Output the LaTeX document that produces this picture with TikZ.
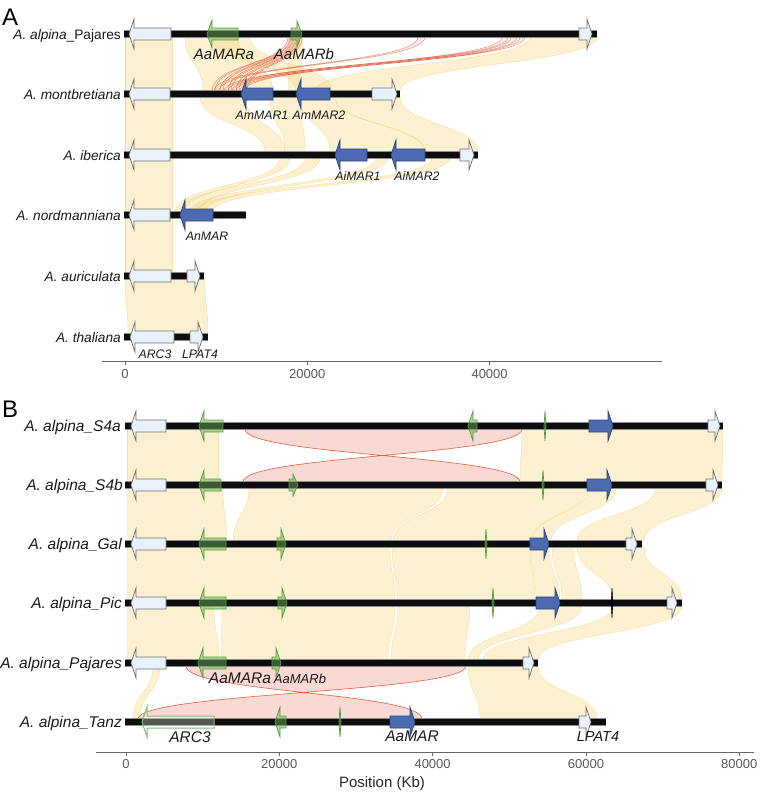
\documentclass[tikz,border=0pt]{standalone}
\usepackage{fontspec}
\setmainfont{Liberation Sans}
\definecolor{geneW}{HTML}{E9F2FB}
\definecolor{geneWd}{HTML}{707070}
\definecolor{geneB}{HTML}{4B6AB2}
\definecolor{geneBd}{HTML}{2E4478}
\definecolor{geneG}{HTML}{6BAA55}
\definecolor{geneGd}{HTML}{4FA03A}
\definecolor{ribY}{HTML}{F6DC8C}
\definecolor{ribYd}{HTML}{F0D078}
\definecolor{ribR}{HTML}{EFA090}
\definecolor{ribRd}{HTML}{E2603F}
\newcommand{\myfs}[1]{\fontsize{#1}{#1}\selectfont}
% ribbon: style, y1, x1a, x1b, y2, x2a, x2b
\newcommand{\myrib}[7]{\path[#1] (#3,{#2+3}) .. controls (#3,{(#2+#5)/2}) and (#6,{(#2+#5)/2}) .. (#6,{#5-3}) -- (#7,{#5-3}) .. controls (#7,{(#2+#5)/2}) and (#4,{(#2+#5)/2}) .. (#4,{#2+3}) -- cycle;}
\newcommand{\myinv}[7]{\path[#1] (#3,{#2+3}) .. controls (#3,{(#2+#5)/2}) and (#7,{(#2+#5)/2}) .. (#7,{#5-3}) -- (#6,{#5-3}) .. controls (#6,{(#2+#5)/2}) and (#4,{(#2+#5)/2}) .. (#4,{#2+3}) -- cycle;}
% genes: style, y, x1, x2, head half height
\newcommand{\gR}[5]{\path[#1] (#3,{#2-6}) -- ({#4-5},{#2-6}) -- ({#4-5},{#2-#5}) -- (#4,#2) -- ({#4-5},{#2+#5}) -- ({#4-5},{#2+6}) -- (#3,{#2+6}) -- cycle;}
\newcommand{\gL}[5]{\path[#1] (#4,{#2-6}) -- ({#3+5},{#2-6}) -- ({#3+5},{#2-#5}) -- (#3,#2) -- ({#3+5},{#2+#5}) -- ({#3+5},{#2+6}) -- (#4,{#2+6}) -- cycle;}
\newcommand{\gT}[3]{\path[#1] (#3,{#2-15}) -- ({#3+1},#2) -- (#3,{#2+15}) -- ({#3-1},#2) -- cycle;}
\newcommand{\chromo}[3]{\draw[chromout] (#2,#1) -- (#3,#1); \draw[chromin] (#2,#1) -- (#3,#1);}
\begin{document}
\begin{tikzpicture}[x=1pt,y=-1pt,
  yrib/.style={fill=ribY, fill opacity=0.42, draw=ribYd, draw opacity=0.6, line width=0.4pt},
  rrib/.style={fill=ribR, fill opacity=0.4, draw=ribRd, line width=0.6pt},
  rribA/.style={fill=ribR, fill opacity=0.2, draw=ribRd, draw opacity=0.85, line width=0.35pt},
  chromout/.style={line width=7.5pt, draw=black!45},
  chromin/.style={line width=5.5pt, draw=black!95},
  gw/.style={fill=geneW, draw=geneWd, line width=0.7pt},
  gb/.style={fill=geneB, draw=geneBd, line width=0.7pt},
  gg/.style={fill=geneG, fill opacity=0.5, draw=geneGd, line width=0.7pt},
  gtz/.style={fill=white, fill opacity=0.3, draw=geneGd!70, line width=1pt},
  gk/.style={fill=black, draw=black, line width=0.4pt},
  sp/.style={font=\myfs{13.7}\itshape, anchor=base east, inner sep=0pt, text=black!90},
  spb/.style={font=\myfs{15.5}\itshape, anchor=base east, inner sep=0pt, text=black!90},
  glA/.style={font=\myfs{12.3}\itshape, anchor=base, inner sep=0pt, text=black!90},
  glAL/.style={font=\myfs{15}\itshape, anchor=base, inner sep=0pt, text=black!90},
  glB/.style={font=\myfs{15.5}\itshape, anchor=base, inner sep=0pt, text=black!90},
  tickl/.style={font=\myfs{13}, anchor=base, inner sep=0pt, text=black!65},
  axisl/.style={draw=black!60, line width=0.8pt},
  panel/.style={font=\myfs{24}, anchor=base west, inner sep=0pt}
]
\useasboundingbox (0,0) rectangle (762,793);

%================ PANEL A ribbons =================
% Pajares -> montbretiana
\myrib{yrib}{34}{125}{172}{94}{125}{172}
\myrib{yrib}{34}{185}{238}{94}{203}{273}
\myrib{yrib}{34}{212}{250}{94}{296}{332}
\myrib{yrib}{34}{288}{303}{94}{288}{300}
\myrib{yrib}{34}{530}{597}{94}{315}{400}
% montbretiana -> iberica
\myrib{yrib}{94}{125}{172}{155}{125}{172}
\myrib{yrib}{94}{200}{245}{155}{265}{285}
\myrib{yrib}{94}{270}{300}{155}{285}{305}
\myrib{yrib}{94}{300}{335}{155}{330}{425}
\myrib{yrib}{94}{335}{400}{155}{425}{478}
% iberica -> nordmanniana
\myrib{yrib}{155}{125}{172}{215}{125}{172}
\myrib{yrib}{155}{280}{290}{215}{175}{185}
\myrib{yrib}{155}{305}{320}{215}{180}{200}
\myrib{yrib}{155}{376}{388}{215}{190}{205}
\myrib{yrib}{155}{432}{450}{215}{195}{213}
% nordmanniana -> auriculata -> thaliana
\myrib{yrib}{215}{125}{172}{276}{125}{172}
\myrib{yrib}{276}{125}{205}{337}{128}{208}
% red (AaMARb and distal copies)
\foreach \i in {0,...,4}{\myrib{rribA}{34}{288+3*\i}{290+3*\i}{94}{212+8*\i}{215+8*\i}}
\myrib{rribA}{34}{418}{425}{94}{214}{219}
\myrib{rribA}{34}{502}{508}{94}{224}{228}
\myrib{rribA}{34}{511}{517}{94}{232}{236}
\myrib{rribA}{34}{520}{525}{94}{240}{244}

%================ PANEL A chromosomes =================
\chromo{34}{124}{597}
\chromo{94}{124}{400}
\chromo{155}{124}{478}
\chromo{215}{124}{246}
\chromo{276}{124}{204}
\chromo{337}{124}{208}

%================ PANEL A genes =================
\gL{gw}{34}{129}{171}{15}
\gL{gg}{34}{207}{238}{14}
\gR{gg}{34}{291}{302}{13}
\gR{gw}{34}{579}{592}{15}
\gL{gw}{94}{129}{170}{15}
\gL{gb}{94}{241}{273}{15}
\gL{gb}{94}{296}{330}{15}
\gR{gw}{94}{372}{397}{15}
\gL{gw}{155}{129}{170}{15}
\gL{gb}{155}{335}{367}{15}
\gL{gb}{155}{391}{425}{15}
\gR{gw}{155}{460}{474}{15}
\gL{gw}{215}{129}{170}{15}
\gL{gb}{215}{180}{213}{15}
\gL{gw}{276}{129}{171}{15}
\gR{gw}{276}{187}{200}{15}
\gL{gw}{337}{130}{174}{15}
\gR{gw}{337}{190}{203}{15}

%================ PANEL A labels =================
\node[panel] (pA) at (2,25) {A};
\node[sp] (sA1) at (121,39) {A. alpina\upshape\_Pajares};
\node[sp] (sA2) at (121,99) {A. montbretiana};
\node[sp] (sA3) at (121,160) {A. iberica};
\node[sp] (sA4) at (121,220) {A. nordmanniana};
\node[sp] (sA5) at (121,281) {A. auriculata};
\node[sp] (sA6) at (121,342) {A. thaliana};
\node[glAL] (lAaMARa) at (224,59) {AaMARa};
\node[glAL] (lAaMARb) at (304,59) {AaMARb};
\node[glA] (lAm1) at (262,119.5) {AmMAR1};
\node[glA] (lAm2) at (319,119.5) {AmMAR2};
\node[glA] (lAi1) at (358,180) {AiMAR1};
\node[glA] (lAi2) at (417,180) {AiMAR2};
\node[glA] (lAn) at (207,240) {AnMAR};
\node[glA] (lArcA) at (155,358) {ARC3};
\node[glA] (lLpA) at (200,358) {LPAT4};
% axis A
\draw[axisl] (102,361) coordinate (axA0) -- (662,361) coordinate (axA1);
\foreach \xx/\lab/\nm in {125/0/t0, 307.3/20000/t1, 489.6/40000/t2}{
  \draw[axisl] (\xx,361) -- (\xx,365);
  \node[tickl] (tA\nm) at (\xx,378) {\lab};
}

%================ PANEL B ribbons =================
% S4a -> S4b
\myrib{yrib}{426}{127}{218}{485}{127}{218}
\myinv{rrib}{426}{245}{522}{485}{243}{520}
\myrib{yrib}{426}{522}{723}{485}{520}{722}
% S4b -> Gal
\myrib{yrib}{485}{127}{223}{544}{127}{227}
\myrib{yrib}{485}{249}{443}{544}{233}{391}
\myrib{yrib}{485}{448}{586}{544}{393}{531}
\myrib{yrib}{485}{588}{616}{544}{532}{551}
\myrib{yrib}{485}{656}{722}{544}{577}{644}
% Gal -> Pic
\myrib{yrib}{544}{127}{390}{603}{127}{395}
\myrib{yrib}{544}{392}{530}{603}{397}{535}
\myrib{yrib}{544}{531}{549}{603}{536}{560}
\myrib{yrib}{544}{552}{574}{603}{562}{582}
\myrib{yrib}{544}{577}{644}{603}{613}{682}
% Pic -> Pajares
\myrib{yrib}{603}{127}{214}{663}{127}{219}
\myrib{yrib}{603}{222}{395}{663}{221}{388}
\myrib{yrib}{603}{398}{470}{663}{391}{465}
\myrib{yrib}{603}{540}{582}{663}{468}{478}
\myrib{yrib}{603}{613}{682}{663}{483}{538}
% Pajares -> Tanz
\myrib{yrib}{663}{153}{160}{722}{133}{140}
\myinv{rrib}{663}{186}{466}{722}{138}{422}
\myrib{yrib}{663}{468}{538}{722}{480}{597}

%================ PANEL B chromosomes =================
\chromo{426}{125}{723}
\chromo{485}{125}{722}
\chromo{544}{125}{642}
\chromo{603}{125}{682}
\chromo{663}{125}{538}
\chromo{722}{125}{606}

%================ PANEL B genes =================
% S4a
\gL{gw}{426}{131}{166}{15}
\gL{gg}{426}{199}{223}{15}
\gL{gg}{426}{468}{477}{15}
\gT{gg}{426}{545}
\gR{gb}{426}{589}{613}{15}
\gR{gw}{426}{708}{720}{15}
% S4b
\gL{gw}{485}{131}{166}{15}
\gL{gg}{485}{199}{221}{15}
\gR{gg}{485}{289}{298}{11}
\gT{gg}{485}{543}
\gR{gb}{485}{587}{612}{15}
\gR{gw}{485}{706}{718}{15}
% Gal
\gL{gw}{544}{131}{166}{15}
\gL{gg}{544}{199}{226}{15}
\gR{gg}{544}{277}{286}{15}
\gT{gg}{544}{486}
\gR{gb}{544}{530}{549}{15}
\gR{gw}{544}{626}{637}{15}
% Pic
\gL{gw}{603}{131}{166}{15}
\gL{gg}{603}{199}{226}{15}
\gR{gg}{603}{278}{287}{15}
\gT{gg}{603}{493}
\gR{gb}{603}{536}{560}{15}
\gT{gk}{603}{612}
\gR{gw}{603}{667}{677}{15}
% Pajares
\gL{gw}{663}{131}{166}{15}
\gL{gg}{663}{198}{226}{15}
\gR{gg}{663}{272}{281}{15}
\gR{gw}{663}{523}{534}{15}
% Tanz
\gL{gtz}{722}{142}{214}{15}
\gL{gg}{722}{275}{286}{15}
\gT{gg}{722}{340}
\gR{gb}{722}{390}{415}{15}
\gR{gw}{722}{579}{591}{15}

%================ PANEL B labels =================
\node[panel] (pB) at (2,417) {B};
\node[spb] (sB1) at (121,431.5) {A. alpina\_S4a};
\node[spb] (sB2) at (123,490.5) {A. alpina\_S4b};
\node[spb] (sB3) at (122,549.5) {A. alpina\_Gal};
\node[spb] (sB4) at (122,608.5) {A. alpina\_Pic};
\node[spb] (sB5) at (122,668.5) {A. alpina\_Pajares};
\node[spb] (sB6) at (122,727.5) {A. alpina\_Tanz};
\node[glB] (lBa) at (240,683) {AaMARa};
\node[font=\myfs{13}\itshape, anchor=base, inner sep=0pt, text=black!90] (lBb) at (300,683) {AaMARb};
\node[glB] (lBarc) at (190,742) {ARC3};
\node[glB] (lBmar) at (412,741) {AaMAR};
\node[font=\myfs{14.5}\itshape, anchor=base, inner sep=0pt, text=black!90] (lBlp) at (598,741) {LPAT4};
% axis B
\draw[axisl] (96,752) coordinate (axB0) -- (754,752) coordinate (axB1);
\foreach \xx/\lab/\nm in {126/0/t0, 279.3/20000/t1, 432.6/40000/t2, 586/60000/t3, 739.3/80000/t4}{
  \draw[axisl] (\xx,752) -- (\xx,756);
  \node[tickl] (tB\nm) at (\xx,768) {\lab};
}
\node[font=\myfs{15}, anchor=base, inner sep=0pt, text=black!85] (xlab) at (382,787) {Position (Kb)};
\end{tikzpicture}
\end{document}
